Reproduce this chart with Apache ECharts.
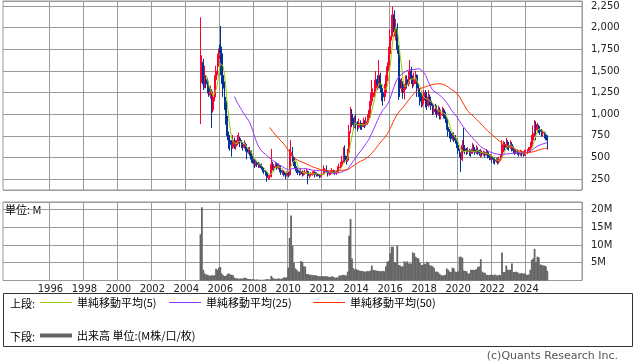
<!DOCTYPE html>
<html><head><meta charset="utf-8">
<script src="https://cdn.jsdelivr.net/npm/echarts@6/dist/echarts.min.js"></script>
<style>html,body{margin:0;padding:0;background:#fff}#c{width:638px;height:362px}</style>
</head><body><div id="c"></div>
<script>
// ---- Monthly candles [open, close, low, high] ----
const candles2004 = [[1000,1550,885,2120],[1450,1600,1360,1680]]; // Nov-Dec
const candles2005 = [[1600,1350,1280,1640],[1350,1400,1300,1560],[1400,1350,1300,1450],[1350,1300,1240,1420],[1300,1250,1200,1380],[1220,1260,1180,1330],[1260,1050,842,1290],[1050,1200,1020,1260],[1200,1400,1150,1450],[1400,1500,1350,1560],[1500,1650,1450,1700],[1640,1680,1550,1760]];
const candles2006 = [[1800,1700,1450,2020],[1700,1450,1350,1780],[1450,1300,1200,1520],[1300,1150,1050,1380],[1150,900,880,1200],[900,750,700,980],[750,700,600,800],[700,650,580,760],[650,620,510,700],[620,700,600,760],[700,650,600,730],[630,660,590,700]];
const candles2007 = [[660,700,640,760],[700,720,660,790],[720,680,620,740],[680,650,610,700],[650,620,580,680],[620,650,600,700],[650,600,570,670],[600,560,480,620],[560,580,540,620],[580,560,520,620],[560,480,440,580],[480,460,430,520]];
const candles2008 = [[460,430,380,480],[430,440,400,470],[440,420,390,460],[420,400,380,450],[400,420,380,440],[420,380,360,430],[380,350,330,400],[350,340,310,370],[340,320,290,350],[320,270,220,330],[270,280,240,300],[280,290,250,310]];
const candles2009 = [[290,420,270,600],[420,380,350,450],[380,400,340,420],[400,420,380,450],[420,380,360,440],[380,400,360,430],[400,350,330,410],[350,330,300,360],[330,340,300,370],[340,310,280,350],[310,300,250,320],[300,320,280,340]];
const candles2010 = [[320,300,270,340],[300,520,290,600],[520,560,480,704],[560,500,450,620],[500,430,400,520],[430,380,340,450],[380,350,320,400],[350,330,300,360],[330,320,290,350],[320,330,300,380],[330,310,280,350],[310,320,290,340]];
const candles2011 = [[320,330,300,360],[330,340,310,370],[340,290,190,350],[290,300,260,320],[300,310,280,330],[310,320,290,340],[320,330,300,350],[330,300,270,340],[300,310,280,330],[310,300,280,320],[300,290,260,310],[290,300,270,310]];
const candles2012 = [[300,310,280,330],[310,340,300,410],[340,360,320,380],[360,340,320,410],[340,310,280,350],[310,320,290,340],[320,330,300,350],[330,350,310,380],[350,330,310,360],[330,320,300,340],[320,330,300,350],[330,380,320,400]];
const candles2013 = [[380,390,360,430],[390,420,370,450],[420,460,400,520],[460,520,440,620],[520,480,440,640],[480,470,420,520],[470,560,450,600],[560,800,540,880],[800,1000,780,1085],[1000,900,850,1060],[900,880,820,960],[880,900,840,980]];
const candles2014 = [[900,880,830,1000],[880,850,800,920],[850,900,830,950],[900,870,820,930],[870,860,820,900],[860,900,850,960],[900,880,840,930],[880,920,860,970],[920,950,880,1000],[950,980,900,1050],[980,1150,960,1250],[1150,1200,1100,1396]];
const candles2015 = [[1200,1250,1150,1300],[1250,1300,1200,1400],[1300,1400,1250,1500],[1400,1350,1280,1450],[1350,1450,1300,1627],[1450,1300,1250,1480],[1300,1250,1150,1350],[1250,1200,1100,1300],[1200,1250,1150,1350],[1250,1400,1200,1450],[1400,1550,1380,1600],[1550,1700,1500,1780]];
const candles2016 = [[1700,1900,1600,1980],[1900,2050,1850,2150],[2050,2150,1950,2245],[2150,1950,1900,2200],[1950,2000,1850,2100],[2000,1750,1700,2050],[1750,1400,1165,1800],[1400,1300,1200,1450],[1300,1350,1250,1420],[1350,1250,1180,1380],[1250,1300,1170,1350],[1300,1400,1280,1450]];
const candles2017 = [[1400,1350,1300,1450],[1350,1450,1320,1500],[1450,1500,1400,1627],[1500,1400,1350,1550],[1400,1350,1300,1450],[1350,1400,1320,1480],[1400,1450,1350,1500],[1450,1300,1200,1460],[1300,1250,1200,1350],[1250,1200,1100,1300],[1200,1150,1080,1250],[1120,1160,1090,1220]];
const candles2018 = [[1160,1250,1130,1280],[1250,1150,1080,1280],[1150,1100,1050,1180],[1100,1200,1080,1280],[1200,1150,1100,1230],[1150,1100,1050,1180],[1100,1050,990,1130],[1030,1060,1000,1100],[1060,1050,1000,1120],[1050,1000,960,1100],[1000,1050,980,1100],[1050,1000,940,1080]];
const candles2019 = [[990,1000,940,1050],[1000,1050,980,1085],[1050,1000,950,1070],[1000,950,900,1030],[950,850,820,970],[850,800,740,880],[800,780,720,830],[780,720,680,800],[720,750,700,790],[750,720,680,790],[720,700,660,760],[700,640,610,720]];
const candles2020 = [[640,580,540,660],[580,540,500,600],[540,480,334,560],[480,640,460,700],[640,600,560,842],[600,580,540,640],[580,570,530,610],[570,580,540,620],[580,560,520,600],[560,550,510,590],[550,600,540,670],[600,590,560,650]];
const candles2021 = [[590,560,530,620],[560,580,540,640],[580,560,530,620],[560,550,520,590],[550,560,500,600],[560,540,510,580],[540,550,520,580],[550,530,500,570],[530,560,520,600],[560,520,490,580],[520,500,470,540],[500,510,470,540]];
const candles2022 = [[510,480,440,520],[480,470,430,500],[470,460,420,500],[460,470,440,500],[470,450,420,490],[450,480,430,510],[480,500,460,540],[500,600,490,700],[600,650,560,690],[650,620,580,680],[620,650,600,727],[650,640,590,700]];
const candles2023 = [[640,620,580,680],[620,650,600,700],[650,600,570,680],[600,580,550,630],[580,560,530,600],[560,570,540,600],[570,560,530,590],[560,540,510,580],[540,560,520,590],[560,550,510,580],[550,540,510,570],[540,560,520,590]];
const candles2024 = [[555,560,520,590],[560,570,540,600],[570,580,550,620],[580,620,560,680],[620,700,600,760],[700,780,680,870],[780,880,740,934],[880,820,700,920],[820,860,790,900],[860,820,780,880],[820,800,760,860],[800,780,740,830]];
const candles2025 = [[780,790,740,820],[790,760,720,800],[760,740,700,790],[740,700,590,760]]; // Jan-Apr

// ---- Monthly volume (millions) ----
const vol2004 = [13.0,20.6];
const vol2005 = [3.0,2.0,1.7,1.6,1.4,1.3,1.5,1.4,1.5,3.3,3.0,3.6];
const vol2006 = [3.8,2.0,1.5,1.3,1.3,1.8,2.0,1.7,1.6,1.5,0.8,0.6];
const vol2007 = [0.6,0.5,0.5,0.6,0.5,0.8,0.7,0.5,0.4,0.4,0.3,0.4];
const vol2008 = [0.3,0.2,0.3,0.2,0.2,0.2,0.2,0.2,0.3,0.4,0.3,0.3];
const vol2009 = [1.3,0.8,0.5,0.5,0.4,0.6,0.5,0.4,0.6,0.9,0.8,0.9];
const vol2010 = [3.6,12.0,18.3,9.8,5.0,3.4,3.0,2.5,2.5,5.5,5.2,4.0];
const vol2011 = [3.9,1.8,1.8,1.6,1.6,1.5,1.5,1.5,1.4,1.3,1.2,1.2];
const vol2012 = [1.2,1.2,1.2,1.2,1.1,1.0,1.0,1.2,1.0,0.8,0.9,0.8];
const vol2013 = [1.4,1.4,1.5,1.6,1.5,1.4,2.5,12.6,17.3,6.2,3.5,3.0];
const vol2014 = [3.2,3.0,2.8,2.7,2.7,2.6,2.5,2.5,2.7,2.6,2.8,4.2];
const vol2015 = [3.0,2.9,2.8,2.7,2.7,2.6,2.6,2.7,2.6,4.0,5.3,5.5];
const vol2016 = [7.7,9.5,9.5,5.2,5.0,9.8,4.4,4.2,3.9,4.0,5.4,5.0];
const vol2017 = [5.4,4.8,4.8,4.8,7.9,7.7,6.7,6.3,6.2,5.0,4.4,4.4];
const vol2018 = [4.8,4.6,5.3,5.0,4.3,4.2,4.0,3.5,2.5,2.5,2.3,1.8];
const vol2019 = [1.5,1.4,1.5,1.6,3.4,3.0,2.5,2.4,3.6,3.4,2.5,2.4];
const vol2020 = [2.6,6.7,6.7,6.4,2.8,2.7,2.6,2.0,2.0,3.0,3.0,3.0];
const vol2021 = [3.0,3.2,3.9,3.9,6.0,2.5,2.2,2.2,1.6,1.6,1.5,1.6];
const vol2022 = [1.6,1.5,1.7,1.5,1.4,1.6,1.5,7.9,2.4,2.4,4.2,3.0];
const vol2023 = [3.0,3.0,4.8,2.4,2.4,2.5,2.3,2.0,2.0,2.1,1.9,2.0];
const vol2024 = [1.6,1.6,1.7,3.0,5.8,6.2,8.9,5.3,6.7,6.5,4.5,4.4];
const vol2025 = [4.2,4.2,4.0,2.7];

// ---- Axis definitions ----
const firstDataMonth = '2004-11';
const axisFirstMonth = [1993, 4];
const axisLastMonth = [2027, 4];
const yearTicks = [1996,1998,2000,2002,2004,2006,2008,2010,2012,2014,2016,2018,2020,2022,2024];
const priceTicks = [250,500,750,1000,1250,1500,1750,2000,2250];
const volumeTicks = [5,10,15,20];
const maPeriods = [5, 25, 50];
const maNames = ['単純移動平均(5)', '単純移動平均(25)', '単純移動平均(50)'];
const volName = '出来高 単位:(M株/口/枚)';

function ml(y, m) { return y + '-' + (m < 10 ? '0' + m : '' + m); }
const months = [];
{
  let y = axisFirstMonth[0], m = axisFirstMonth[1];
  while (y < axisLastMonth[0] || (y === axisLastMonth[0] && m <= axisLastMonth[1])) {
    months.push(ml(y, m)); m++; if (m > 12) { m = 1; y++; }
  }
}
const candles = [].concat(candles2004,candles2005,candles2006,candles2007,candles2008,candles2009,candles2010,candles2011,candles2012,candles2013,candles2014,candles2015,candles2016,candles2017,candles2018,candles2019,candles2020,candles2021,candles2022,candles2023,candles2024,candles2025);
const volumes = [].concat(vol2004,vol2005,vol2006,vol2007,vol2008,vol2009,vol2010,vol2011,vol2012,vol2013,vol2014,vol2015,vol2016,vol2017,vol2018,vol2019,vol2020,vol2021,vol2022,vol2023,vol2024,vol2025);
const startIdx = months.indexOf(firstDataMonth);
const dataMonths = candles.map((c, i) => months[startIdx + i]);
const closes = candles.map(c => c[1]);
function sma(n) {
  const out = [];
  for (let i = n - 1; i < closes.length; i++) {
    let s = 0; for (let j = i - n + 1; j <= i; j++) s += closes[j];
    out.push([dataMonths[i], s / n]);
  }
  return out;
}
const isYearTick = (i, v) => {
  const s = typeof v === 'string' ? v : months[i];
  return s.slice(5) === '01' && yearTicks.indexOf(+s.slice(0, 4)) >= 0;
};

const RED = '#FF0033', BLUE = '#003399';
const MA_COLORS = ['#99CC00', '#9933FF', '#FF3300'];
const GRID_C = '#9a9a9a';
const NUMFONT = 'DejaVu Sans';
const JPFONT = '"Noto Sans CJK JP", sans-serif';

const chart = echarts.init(document.getElementById('c'));
const legendCommon = { orient: 'horizontal', itemWidth: 32, itemHeight: 1, icon: 'rect', selectedMode: false, padding: 0, itemGap: 0,
  textStyle: { fontSize: 11, fontFamily: JPFONT, color: '#000' } };

chart.setOption({
  animation: false,
  backgroundColor: '#fff',
  grid: [
    { left: 3, right: 56, top: 1, height: 189, show: true, borderColor: GRID_C, borderWidth: 1 },
    { left: 3, right: 56, top: 202, height: 78.5, show: true, borderColor: GRID_C, borderWidth: 1 }
  ],
  xAxis: [
    { type: 'category', gridIndex: 0, data: months, boundaryGap: true,
      axisLine: { show: false }, axisTick: { show: false }, axisLabel: { show: false },
      splitLine: { show: true, interval: isYearTick, lineStyle: { color: GRID_C, width: 1 } } },
    { type: 'category', gridIndex: 1, data: months, boundaryGap: true,
      axisLine: { show: false }, axisTick: { show: false },
      axisLabel: { show: true, interval: isYearTick, formatter: v => v.slice(0, 4), color: '#222', fontSize: 10, fontFamily: NUMFONT, margin: 4 },
      splitLine: { show: true, interval: isYearTick, lineStyle: { color: GRID_C, width: 1 } } }
  ],
  yAxis: [
    { type: 'value', gridIndex: 0, position: 'right', min: 125, max: 2308, minInterval: 250, maxInterval: 250,
      axisLine: { show: false }, axisTick: { show: false },
      splitLine: { show: true, lineStyle: { color: GRID_C, width: 1 } },
      axisLabel: { showMinLabel: false, showMaxLabel: false, margin: 9, color: '#222', fontSize: 10, fontFamily: NUMFONT,
        formatter: v => priceTicks.indexOf(v) >= 0 ? v.toLocaleString('en-US') : '' } },
    { type: 'value', gridIndex: 1, position: 'right', min: 0, max: 22.1, interval: 5,
      axisLine: { show: false }, axisTick: { show: false },
      splitLine: { show: true, lineStyle: { color: GRID_C, width: 1 } },
      axisLabel: { showMinLabel: false, showMaxLabel: false, margin: 9, color: '#222', fontSize: 10, fontFamily: NUMFONT,
        formatter: v => volumeTicks.indexOf(v) >= 0 ? v + 'M' : '' } }
  ],
  legend: [
    Object.assign({}, legendCommon, { data: [maNames[0]], left: 40, top: 297 }),
    Object.assign({}, legendCommon, { data: [maNames[1]], left: 169, top: 297 }),
    Object.assign({}, legendCommon, { data: [maNames[2]], left: 313, top: 297 }),
    Object.assign({}, legendCommon, { data: [volName], left: 40, top: 330, itemHeight: 4 })
  ],
  series: [
    { type: 'candlestick', name: '株価', xAxisIndex: 0, yAxisIndex: 0, barWidth: 1.4,
      data: candles.map((c, i) => [dataMonths[i], c[0], c[1], c[2], c[3]]),
      encode: { x: 0, y: [1, 2, 3, 4] },
      itemStyle: { color: RED, color0: BLUE, borderColor: RED, borderColor0: BLUE, borderWidth: 1 } },
    ...maPeriods.map((n, k) => ({
      type: 'line', name: maNames[k], xAxisIndex: 0, yAxisIndex: 0, data: sma(n),
      showSymbol: false, symbol: 'none', lineStyle: { width: 1, color: MA_COLORS[k] }, itemStyle: { color: MA_COLORS[k] }
    })),
    { type: 'bar', name: volName, xAxisIndex: 1, yAxisIndex: 1, barWidth: 1.8,
      data: volumes.map((v, i) => [dataMonths[i], v]), itemStyle: { color: '#666666' } }
  ],
  graphic: [
    { type: 'rect', shape: { x: 3.5, y: 293.5, width: 629, height: 53 }, style: { fill: 'none', stroke: '#333', lineWidth: 1 } },
    { type: 'text', x: 10, y: 304, style: { text: '上段:', font: '11px ' + JPFONT, fill: '#000', verticalAlign: 'middle' } },
    { type: 'text', x: 10, y: 337, style: { text: '下段:', font: '11px ' + JPFONT, fill: '#000', verticalAlign: 'middle' } },
    { type: 'text', x: 5, y: 209.5, style: { text: '単位: M', font: '11px ' + JPFONT, fill: '#000', verticalAlign: 'middle' } },
    { type: 'text', x: 618, y: 356, style: { text: '(c)Quants Research Inc.', font: '11px ' + NUMFONT, fill: '#555', align: 'right', verticalAlign: 'middle' } }
  ]
});
</script></body></html>
